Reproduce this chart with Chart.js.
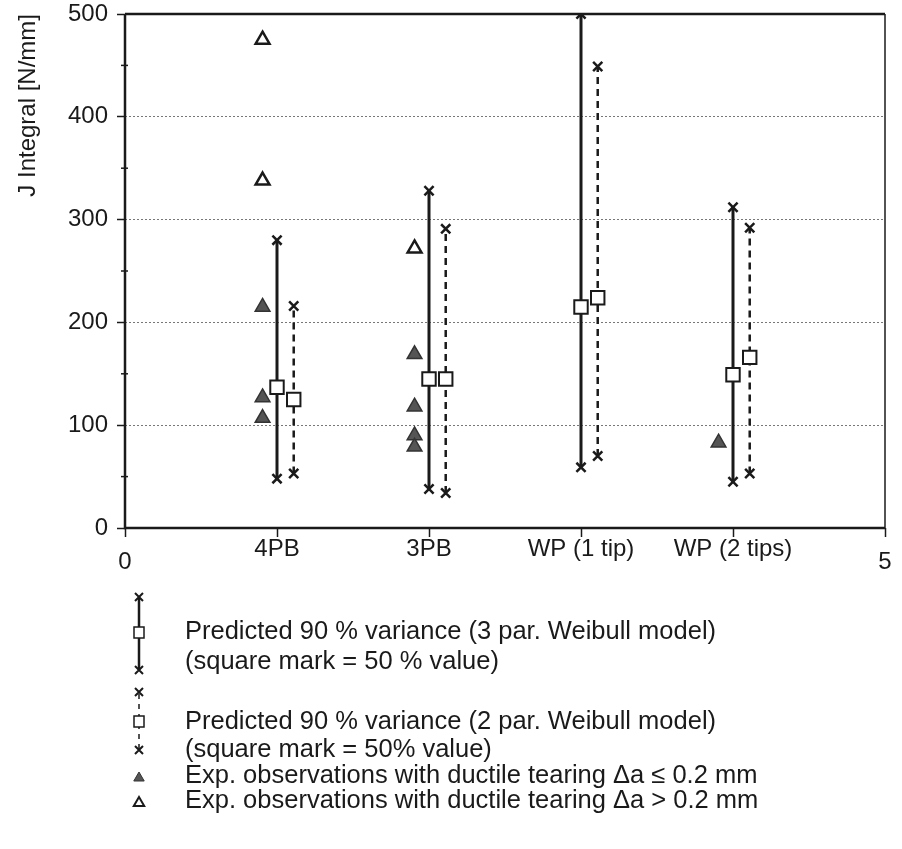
<!DOCTYPE html>
<html>
<head>
<meta charset="utf-8">
<script src="https://cdn.jsdelivr.net/npm/chart.js@4/dist/chart.umd.min.js"></script>
<style>
  body { margin: 0; background: #fff; }
  canvas { display: block; }
</style>
</head>
<body>
<canvas id="JINTEGRAL" width="902" height="849"></canvas>
<script>
// categorias del eje x (0 y 5 son solo los extremos)
var categories = ["4PB", "3PB", "WP (1 tip)", "WP (2 tips)"];
var xTickLabels = ["0", "4PB", "3PB", "WP (1 tip)", "WP (2 tips)", "5"];

// 3 par. Weibull: 5 %, 50 %, 95 %
var weibull3Low = [48, 38, 59, 45];
var weibull3Median = [137, 145, 215, 149];
var weibull3High = [280, 328, 500, 312];

// 2 par. Weibull: 5 %, 50 %, 95 %
var weibull2Low = [53, 34, 70, 53];
var weibull2Median = [125, 145, 224, 166];
var weibull2High = [216, 291, 449, 292];

// experimentos, grupo = posicion de la categoria (1..4)
var smallTearGroup = [1, 1, 1, 2, 2, 2, 2, 4];
var smallTearJ = [215, 127, 107, 169, 118, 90, 79, 83];
var largeTearGroup = [1, 1, 2];
var largeTearJ = [475, 338, 272];

var legendTexts = [
  "Predicted 90 % variance (3 par. Weibull model)",
  "(square mark = 50 % value)",
  "Predicted 90 % variance (2 par. Weibull model)",
  "(square mark = 50% value)",
  "Exp. observations with ductile tearing \u0394a \u2264 0.2 mm",
  "Exp. observations with ductile tearing \u0394a > 0.2 mm",
];

var FONT = "'Liberation Sans', Arial, Helvetica, sans-serif";
var INK = "#1a1a1a";
var OFFSET_2PAR = 0.11;
var OFFSET_EXP = -0.095;

Chart.defaults.font.family = FONT;
Chart.defaults.color = INK;

var datasets = [];

// cuadros de la mediana (arriba de todo)
var med3 = [];
var med2 = [];
for (let i = 0; i < categories.length; i++) {
  med3.push({ x: i + 1, y: weibull3Median[i] });
  med2.push({ x: i + 1 + OFFSET_2PAR, y: weibull2Median[i] });
}
datasets.push({
  data: med3.concat(med2),
  pointStyle: "rect",
  pointRadius: 9.5,
  pointBackgroundColor: "#fff",
  pointBorderColor: INK,
  pointBorderWidth: 2,
  order: 0,
});

// triangulos
var small = [];
for (let i = 0; i < smallTearJ.length; i++) {
  small.push({ x: smallTearGroup[i] + OFFSET_EXP, y: smallTearJ[i] });
}
var large = [];
for (let i = 0; i < largeTearJ.length; i++) {
  large.push({ x: largeTearGroup[i] + OFFSET_EXP, y: largeTearJ[i] });
}
datasets.push({
  data: small,
  pointStyle: "triangle",
  pointRadius: 8.5,
  pointBackgroundColor: "#555",
  pointBorderColor: "#333",
  pointBorderWidth: 1.5,
  order: 1,
});
datasets.push({
  data: large,
  pointStyle: "triangle",
  pointRadius: 8,
  pointBackgroundColor: "#fff",
  pointBorderColor: INK,
  pointBorderWidth: 2.5,
  order: 1,
});

// barras de varianza
for (let i = 0; i < categories.length; i++) {
  datasets.push({
    data: [
      { x: i + 1, y: weibull3Low[i] },
      { x: i + 1, y: weibull3High[i] },
    ],
    showLine: true,
    borderColor: INK,
    borderWidth: 3,
    pointStyle: "crossRot",
    pointRadius: 6.5,
    pointBorderWidth: 2.5,
    order: 2,
  });
  datasets.push({
    data: [
      { x: i + 1 + OFFSET_2PAR, y: weibull2Low[i] },
      { x: i + 1 + OFFSET_2PAR, y: weibull2High[i] },
    ],
    showLine: true,
    borderColor: INK,
    borderWidth: 2.5,
    borderDash: [7, 5],
    pointStyle: "crossRot",
    pointRadius: 6.5,
    pointBorderWidth: 2.5,
    order: 2,
  });
}

function cross(ctx, x, y, r) {
  ctx.beginPath();
  ctx.moveTo(x - r, y - r);
  ctx.lineTo(x + r, y + r);
  ctx.moveTo(x + r, y - r);
  ctx.lineTo(x - r, y + r);
  ctx.stroke();
}

function triangle(ctx, x, y, r, fill, stroke, lw) {
  ctx.beginPath();
  ctx.moveTo(x, y - r);
  ctx.lineTo(x + r * 0.87, y + r * 0.5);
  ctx.lineTo(x - r * 0.87, y + r * 0.5);
  ctx.closePath();
  ctx.fillStyle = fill;
  ctx.fill();
  ctx.lineWidth = lw;
  ctx.strokeStyle = stroke;
  ctx.stroke();
}

// marco, ticks menores y leyenda
var extras = {
  id: "extras",
  afterDraw: function (chart) {
    var ctx = chart.ctx;
    var a = chart.chartArea;
    var y = chart.scales.y;
    ctx.save();
    ctx.strokeStyle = INK;

    // marco
    ctx.lineWidth = 2.5;
    ctx.beginPath();
    ctx.moveTo(a.left, a.top);
    ctx.lineTo(a.left, a.bottom);
    ctx.lineTo(a.right, a.bottom);
    ctx.stroke();
    ctx.lineWidth = 2.5;
    ctx.beginPath();
    ctx.moveTo(a.left, a.top);
    ctx.lineTo(a.right, a.top);
    ctx.stroke();
    ctx.lineWidth = 1.5;
    ctx.beginPath();
    ctx.moveTo(a.right, a.top);
    ctx.lineTo(a.right, a.bottom);
    ctx.stroke();

    // ticks menores del eje y
    ctx.lineWidth = 1.5;
    for (let v = 50; v < 500; v += 100) {
      var py = y.getPixelForValue(v);
      ctx.beginPath();
      ctx.moveTo(a.left - 4, py);
      ctx.lineTo(a.left + 3, py);
      ctx.stroke();
    }

    // leyenda
    var ix = 139;
    var tx = 185;
    var rows = [632, 662, 722, 750, 776, 801];

    ctx.lineWidth = 2.5;
    ctx.beginPath();
    ctx.moveTo(ix, 597);
    ctx.lineTo(ix, 670);
    ctx.stroke();
    ctx.lineWidth = 2;
    cross(ctx, ix, 597, 4);
    cross(ctx, ix, 670, 4);
    ctx.fillStyle = "#fff";
    ctx.fillRect(ix - 5, 627, 10, 11);
    ctx.lineWidth = 1.5;
    ctx.strokeRect(ix - 5, 627, 10, 11);

    ctx.lineWidth = 1.5;
    ctx.setLineDash([5, 5]);
    ctx.beginPath();
    ctx.moveTo(ix, 694);
    ctx.lineTo(ix, 750);
    ctx.stroke();
    ctx.setLineDash([]);
    ctx.lineWidth = 2;
    cross(ctx, ix, 692, 4);
    cross(ctx, ix, 750, 4);
    ctx.fillStyle = "#fff";
    ctx.fillRect(ix - 5, 716, 10, 11);
    ctx.lineWidth = 1.5;
    ctx.strokeRect(ix - 5, 716, 10, 11);

    triangle(ctx, ix, 778, 6, "#555", "#333", 1);
    triangle(ctx, ix, 803, 6, "#fff", INK, 2);

    ctx.fillStyle = INK;
    ctx.font = "25.5px " + FONT;
    ctx.textAlign = "left";
    ctx.textBaseline = "middle";
    for (let i = 0; i < legendTexts.length; i++) {
      ctx.fillText(legendTexts[i], tx, rows[i]);
    }
    ctx.restore();
  },
};

var ctx = document.getElementById("JINTEGRAL").getContext("2d");

var myChart = new Chart(ctx, {
  type: "scatter",
  data: { datasets: datasets },
  plugins: [extras],
  options: {
    responsive: false,
    animation: false,
    layout: {
      padding: { left: 0, right: 17, top: 14, bottom: 0 },
    },
    scales: {
      x: {
        type: "linear",
        min: 0,
        max: 5,
        afterFit: function (scale) {
          scale.height = 321;
        },
        ticks: {
          stepSize: 1,
          padding: 6,
          maxRotation: 0,
          font: { size: 24, lineHeight: 0.55 },
          callback: function (value) {
            var t = xTickLabels[value];
            if (value === 0 || value === 5) {
              return ["", t];
            }
            return t;
          },
        },
        grid: {
          drawOnChartArea: false,
          tickLength: 9,
          tickColor: INK,
          tickWidth: 1.5,
        },
        border: { display: false },
      },
      y: {
        min: 0,
        max: 500,
        afterFit: function (scale) {
          scale.width = 125;
          scale.paddingTop = 0;
          scale.paddingBottom = 0;
        },
        ticks: {
          stepSize: 100,
          padding: 9,
          font: { size: 24 },
        },
        grid: {
          color: function (c) {
            if (c.tick.value === 0 || c.tick.value === 500) {
              return "rgba(0,0,0,0)";
            }
            return "#777";
          },
          lineWidth: 1,
          tickLength: 8,
          tickColor: INK,
          tickWidth: 1.5,
        },
        border: { display: false, dash: [2, 2] },
        title: {
          display: true,
          text: "J Integral [N/mm]",
          align: "end",
          padding: { top: 14, bottom: 0 },
          font: { size: 24 },
        },
      },
    },
    plugins: {
      legend: { display: false },
      tooltip: { enabled: false },
    },
  },
});
</script>
</body>
</html>
